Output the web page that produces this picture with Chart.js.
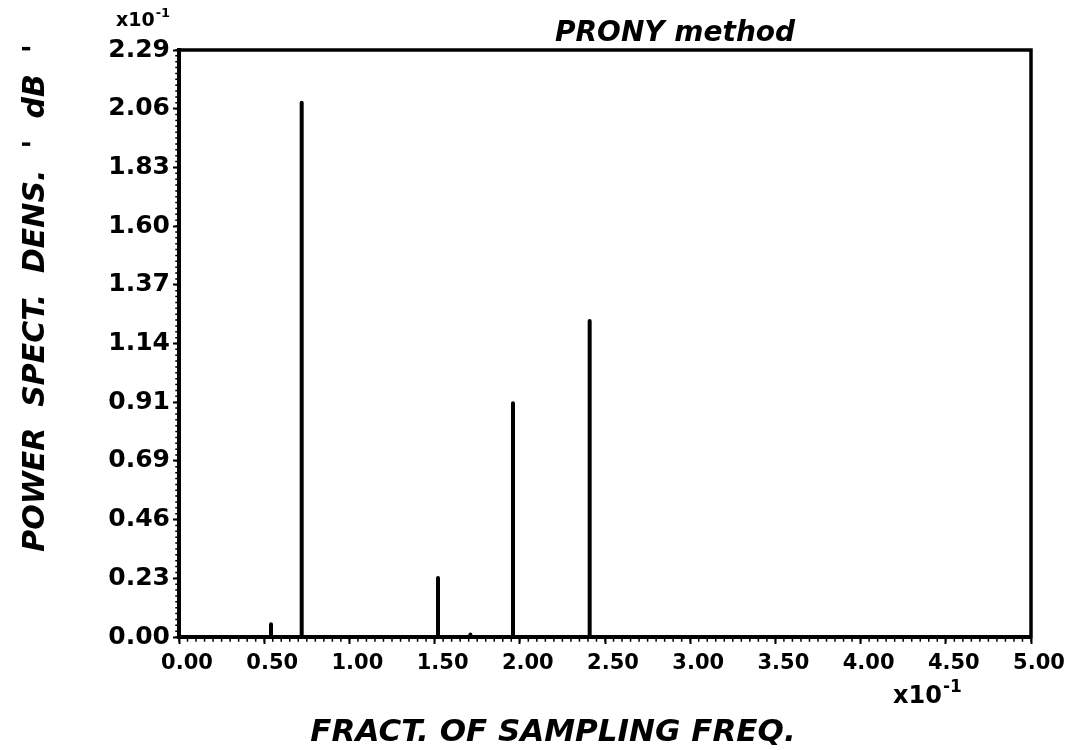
<!DOCTYPE html>
<html>
<head>
<meta charset="utf-8">
<title>PRONY method</title>
<script src="https://cdn.jsdelivr.net/npm/chart.js@4.4.1/dist/chart.umd.min.js"></script>
<style>
  html, body { margin: 0; padding: 0; background: #fff; }
  #wrap { width: 1085px; height: 750px; }
</style>
</head>
<body>
<div id="wrap"><canvas id="c" width="1085" height="750"></canvas></div>
<script>
// Spectral lines estimated by the Prony method (frequency in units of 1e-1 of fs)
const spikeFreq  = [0.54, 0.72, 1.52, 1.71, 1.96, 2.41];
const spikePower = [0.05, 2.08, 0.23, 0.01, 0.91, 1.23];

// Axis labelling
const xTickLabels = ['0.00', '0.50', '1.00', '1.50', '2.00', '2.50', '3.00', '3.50', '4.00', '4.50', '5.00'];
const yTickLabels = ['0.00', '0.23', '0.46', '0.69', '0.91', '1.14', '1.37', '1.60', '1.83', '2.06', '2.29'];
const xMin = 0, xMax = 5.0;
const yMin = 0, yMax = 2.285;

const INK = '#000';
const FONT = '"DejaVu Sans", "Liberation Sans", sans-serif';

// Build a single polyline: baseline with a vertical stroke at every line frequency
function spikePath(freq, power) {
  const pts = [{ x: xMin, y: 0 }];
  freq.forEach((f, i) => {
    pts.push({ x: f, y: 0 }, { x: f, y: power[i] }, { x: f, y: 0 });
  });
  pts.push({ x: xMax, y: 0 });
  return pts;
}

// Frame, minor ticks and the plotter-style annotations
const plotterDecor = {
  id: 'plotterDecor',
  afterDraw(chart) {
    const { ctx, chartArea: a, scales } = chart;
    const xs = scales.x, ys = scales.y;
    ctx.save();
    ctx.strokeStyle = INK;
    ctx.fillStyle = INK;

    // closing frame (top and right)
    ctx.lineWidth = 3.5;
    ctx.lineCap = 'square';
    ctx.beginPath();
    ctx.moveTo(a.left, a.top);
    ctx.lineTo(a.right, a.top);
    ctx.lineTo(a.right, a.bottom);
    ctx.stroke();

    // minor ticks
    ctx.lineWidth = 1.5;
    ctx.beginPath();
    const ySub = (yMax - yMin) / 10 / 10;
    for (let v = yMin; v <= yMax + 1e-9; v += ySub) {
      const py = ys.getPixelForValue(v);
      ctx.moveTo(a.left - 3, py);
      ctx.lineTo(a.left, py);
    }
    const xSub = 0.05;
    for (let v = xMin; v <= xMax + 1e-9; v += xSub) {
      const px = xs.getPixelForValue(v);
      ctx.moveTo(px, a.bottom);
      ctx.lineTo(px, a.bottom + 4);
    }
    ctx.stroke();

    // title
    ctx.font = 'italic bold 28px ' + FONT;
    ctx.textAlign = 'left';
    ctx.textBaseline = 'alphabetic';
    ctx.fillText('PRONY method', 555, 41);

    // exponent markers
    function power10(x, y, size) {
      ctx.font = 'bold ' + size + 'px ' + FONT;
      ctx.textAlign = 'left';
      ctx.textBaseline = 'alphabetic';
      ctx.fillText('x10', x, y);
      const w = ctx.measureText('x10').width;
      ctx.font = 'bold ' + Math.round(size * 0.7) + 'px ' + FONT;
      ctx.fillText('-1', x + w + 1, y - size * 0.45);
    }
    power10(116, 26, 19);
    power10(893, 703, 24);

    // x axis title
    ctx.font = 'italic bold 31px ' + FONT;
    ctx.textAlign = 'center';
    ctx.textBaseline = 'middle';
    ctx.fillText('FRACT. OF SAMPLING FREQ.', 553, 733);

    // y axis title
    ctx.font = 'italic bold 30px ' + FONT;
    ctx.translate(36, 298);
    ctx.rotate(-Math.PI / 2);
    ctx.fillText("POWER  SPECT.  DENS.  '  dB  '", 0, 0);
    ctx.restore();
  }
};

new Chart(document.getElementById('c'), {
  type: 'scatter',
  data: {
    datasets: [{
      data: spikePath(spikeFreq, spikePower),
      showLine: true,
      borderColor: INK,
      borderWidth: 4,
      borderCapStyle: 'round',
      borderJoinStyle: 'round',
      pointRadius: 0,
      tension: 0
    }]
  },
  options: {
    responsive: false,
    devicePixelRatio: 1,
    animation: false,
    layout: { padding: { left: 0, top: 50, right: 54, bottom: 0 } },
    plugins: {
      legend: { display: false },
      tooltip: { enabled: false },
      title: { display: false }
    },
    scales: {
      x: {
        type: 'linear',
        min: xMin,
        max: xMax,
        afterFit(scale) { scale.height = 113; },
        afterBuildTicks(scale) {
          scale.ticks = xTickLabels.map((_, i) => ({ value: xMin + i * 0.5 }));
        },
        ticks: {
          autoSkip: false,
          maxRotation: 0,
          padding: 7,
          labelOffset: 8,
          color: INK,
          font: { family: FONT, weight: 'bold', size: 21 },
          callback: (v, i) => xTickLabels[i]
        },
        grid: { drawOnChartArea: false, drawTicks: true, tickLength: 7, tickWidth: 2, color: INK },
        border: { display: true, color: INK, width: 4 }
      },
      y: {
        type: 'linear',
        min: yMin,
        max: yMax,
        afterFit(scale) { scale.width = 179; },
        afterBuildTicks(scale) {
          scale.ticks = yTickLabels.map((_, i) => ({ value: yMin + i * (yMax - yMin) / 10 }));
        },
        ticks: {
          autoSkip: false,
          padding: 3,
          color: INK,
          font: { family: FONT, weight: 'bold', size: 25 },
          callback: (v, i) => yTickLabels[i]
        },
        grid: { drawOnChartArea: false, drawTicks: true, tickLength: 6, tickWidth: 2, color: INK },
        border: { display: true, color: INK, width: 4 }
      }
    }
  },
  plugins: [plotterDecor]
});
</script>
</body>
</html>
